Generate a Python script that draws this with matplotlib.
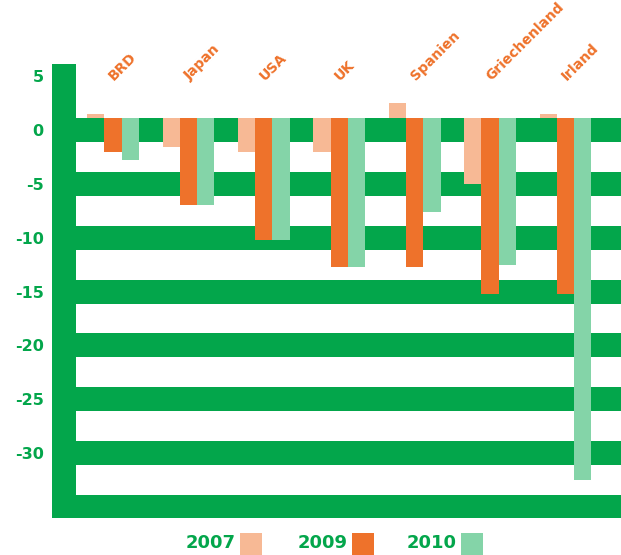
import matplotlib
matplotlib.use("Agg")
import matplotlib.pyplot as plt
from matplotlib.patches import Rectangle

# --- DATA (values read on the tick scale) ---
COUNTRIES = ["BRD", "Japan", "USA", "UK", "Spanien", "Griechenland", "Irland"]
YEARS = ["2007", "2009", "2010"]
VAL_2007 = [1.5, -1.55, -2.0, -2.0, 2.5, -5.0, 1.5]
VAL_2009 = [-2.0, -7.0, -10.2, -12.7, -12.7, -15.2, -15.2]
VAL_2010 = [-2.8, -7.0, -10.2, -12.7, -7.6, -12.5, -32.5]
YTICKS = [5, 0, -5, -10, -15, -20, -25, -30]
STRIPES = [0, -5, -10, -15, -20, -25, -30, -35]

# --- STYLE ---
GREEN = "#03A64B"
C07 = "#F7B995"
C09 = "#EE722B"
C10 = "#84D4A8"
W, H = 621, 555
HALF = 1.114          # half height of a green stripe (in data units)
BASE = HALF           # bars hang from the top edge of the "0" stripe
BW = 0.229            # bar width (group spacing = 1)

plt.rcParams["font.family"] = ["DejaVu Sans"]
plt.rcParams["font.weight"] = "bold"

fig = plt.figure(figsize=(W / 100, H / 100), dpi=100)
ax = fig.add_axes([52 / W, 36.7 / H, 569 / W, 454.3 / H])
ax.set_xlim(-0.809, 6.737)
ax.set_ylim(-36.05, 6.13)

# background stripes and left bar
for v in STRIPES:
    ax.axhspan(v - HALF, v + HALF, color=GREEN, lw=0, zorder=1)
ax.axvspan(-0.809, -0.491, color=GREEN, lw=0, zorder=1)

# bars
x = list(range(len(COUNTRIES)))
for off, vals, col in [(-BW, VAL_2007, C07), (0, VAL_2009, C09), (BW, VAL_2010, C10)]:
    ax.bar([i + off for i in x], [v - BASE for v in vals], bottom=BASE,
           width=BW, color=col, lw=0, zorder=3)

# country labels
for i, name in zip(x, COUNTRIES):
    ax.text(i + 0.04, 4.4, name, rotation=45, rotation_mode="anchor",
            ha="left", va="bottom", color=C09, fontsize=10, fontweight="heavy",
            clip_on=False)

ax.set_yticks(YTICKS)
ax.set_yticklabels([str(t) for t in YTICKS], color=GREEN, fontsize=11.5,
                   fontweight="heavy")
ax.tick_params(axis="y", length=0, pad=6)
ax.set_xticks([])
for s in ax.spines.values():
    s.set_visible(False)

# legend, drawn by hand
for txt, col, sx in [("2007", C07, 240), ("2009", C09, 352), ("2010", C10, 461)]:
    fig.text((sx - 4) / W, (H - 543.5) / H, txt, ha="right", va="center",
             color=GREEN, fontsize=13, fontweight="heavy")
    fig.add_artist(Rectangle((sx / W, 0), 22 / W, 22 / H, color=col,
                             lw=0, transform=fig.transFigure))

fig.savefig("out.png", dpi=100)
